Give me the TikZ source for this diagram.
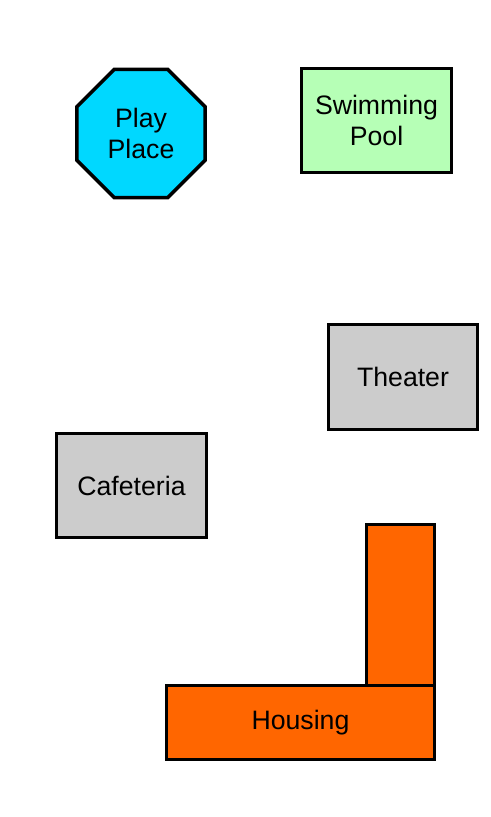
\documentclass[tikz,border=0pt]{standalone}
\usepackage{fontspec}
\setmainfont{Liberation Sans}
\usetikzlibrary{shapes.geometric}
\definecolor{playcyan}{RGB}{0,216,255}
\definecolor{poolgreen}{RGB}{182,255,182}
\definecolor{bldgray}{RGB}{204,204,204}
\definecolor{houseorange}{RGB}{255,102,0}
\begin{document}
\begin{tikzpicture}[
        x=0.75pt,
        y=-0.75pt,
        site/.style={draw, line width=2.6pt, align=center, inner sep=0pt},
        block/.style={site, rectangle},
        every node/.style={font=\fontsize{20}{23}\selectfont}
      ]
        \useasboundingbox (0,0) rectangle (490,817);

        \node[site, regular polygon, regular polygon sides=8, minimum size=139*0.75pt, fill=playcyan] (play) at (141,133.5) {Play\\Place};
        \node[block, fill=poolgreen, minimum width=150*0.75pt, minimum height=104*0.75pt] (pool) at (376.5,120.5) {Swimming\\Pool};
        \node[block, fill=bldgray, minimum width=149*0.75pt, minimum height=105*0.75pt] (theater) at (403,377) {Theater};
        \node[block, fill=bldgray, minimum width=150*0.75pt, minimum height=104*0.75pt] (cafe) at (131.5,485.5) {Cafeteria};

        \node[block, fill=houseorange, minimum width=68*0.75pt, minimum height=161*0.75pt] (wing) at (400.5,605) {};
        \node[block, fill=houseorange, minimum width=268*0.75pt, minimum height=74*0.75pt] (housing) at (300.5,722.5) {Housing};
      \end{tikzpicture}
\end{document}
